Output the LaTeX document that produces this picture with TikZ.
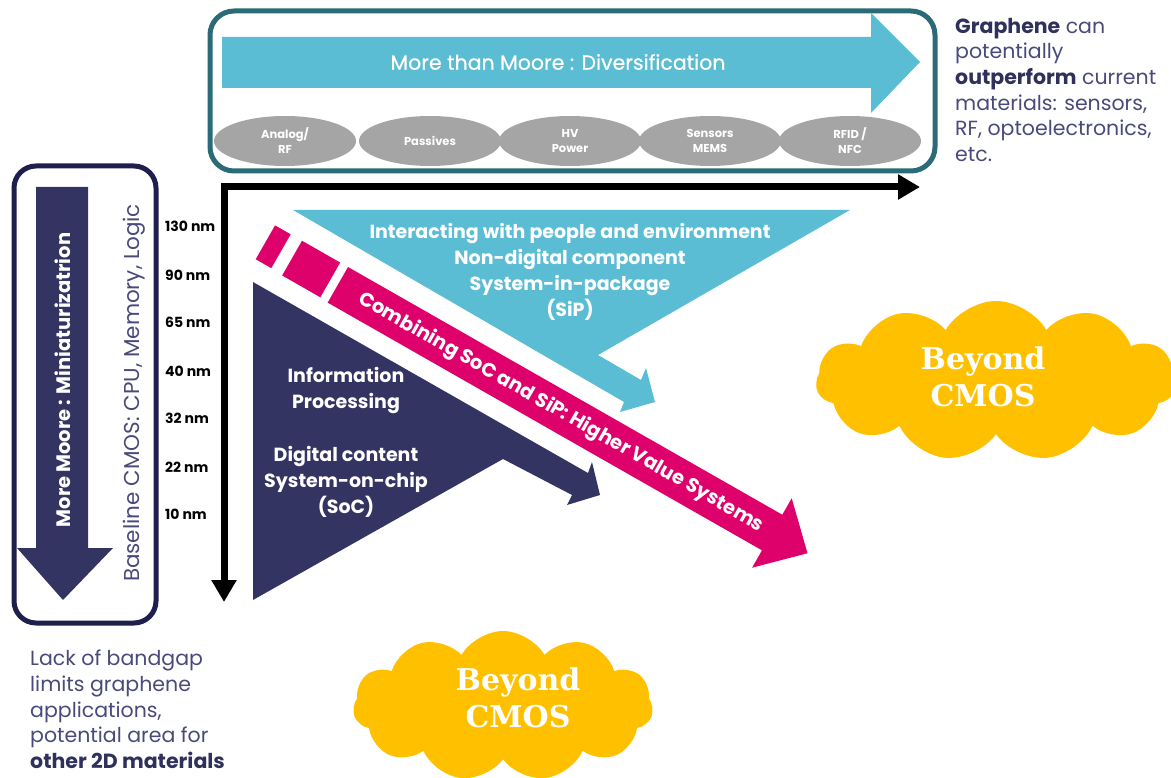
\documentclass[tikz,border=0pt]{standalone}
\usepackage{fontspec}
\setmainfont{Poppins}
\newfontfamily\slabfont{DejaVu Serif}
\usetikzlibrary{arrows.meta,shapes.geometric,shapes.symbols}
\definecolor{skyb}{HTML}{5BBDD4}
\definecolor{navyf}{HTML}{343463}
\definecolor{magen}{HTML}{DE006B}
\definecolor{tealb}{HTML}{2B6B78}
\definecolor{navyb}{HTML}{1F1F4D}
\definecolor{ellg}{HTML}{A5A5A5}
\definecolor{gold}{HTML}{FFC000}
\definecolor{txtnavy}{HTML}{4A4A7A}
\definecolor{txtdark}{HTML}{30305C}
\newcommand\myfs[2]{\fontsize{#1}{#2}\selectfont}
\begin{document}
\begin{tikzpicture}[x=1pt,y=-1pt,
  ell/.style={ellipse, fill=ellg, minimum width=142pt, minimum height=50pt, inner sep=0pt, text=white, font=\myfs{11.5}{15}\bfseries, align=center},
  wlab/.style={text=white, font=\myfs{19}{26}\bfseries, align=center, inner sep=0pt},
  nmlab/.style={anchor=west, font=\myfs{14}{16}\bfseries, inner sep=0pt},
  axisline/.style={line width=7pt, line join=miter, {Triangle[length=22pt,width=24pt]}-{Triangle[length=22pt,width=24pt]}},
  cloudshape/.style={cloud, cloud puffs=11, cloud puff arc=120, fill=gold, draw=none, inner sep=0pt},
  cloudtext/.style={text=white, font=\slabfont\bfseries\myfs{30}{37}, align=center, inner sep=0pt},
  note/.style={anchor=north west, inner sep=0pt, align=left, text=txtnavy, font=\myfs{20.5}{25.6}},
]
\useasboundingbox (0,0) rectangle (1171,778);

% top box
\draw[tealb, line width=5pt, rounded corners=24pt] (210,11) rectangle (935,171);
\fill[skyb] (222,37) -- (871,37) -- (871,13) -- (920,62) -- (871,113) -- (871,88) -- (222,88) -- cycle;
\node[text=white, font=\myfs{20.5}{24}\addfontfeature{FakeBold=0.6}, inner sep=0pt] (mtm) at (558,62) {More than Moore : Diversification};
\node[ell] (e1) at (285,141) {Analog/\\RF};
\node[ell] (e2) at (430,141) {Passives};
\node[ell] (e3) at (570,141) {HV\\Power};
\node[ell] (e4) at (710,141) {Sensors\\MEMS};
\node[ell] (e5) at (850,141) {RFID /\\NFC};

% left box
\draw[navyb, line width=5pt, rounded corners=22pt] (14,166) rectangle (156,623);
\fill[navyf] (36,187) -- (88,187) -- (88,548) -- (113,548) -- (63,600) -- (17,548) -- (36,548) -- cycle;
\node[rotate=90, text=white, font=\myfs{19.5}{22}\bfseries, inner sep=0pt] (mm) at (63,380) {More Moore : Miniaturizatrion};
\node[rotate=90, text=txtnavy, font=\myfs{21.5}{24}, inner sep=0pt] (base) at (134,393) {Baseline CMOS: CPU, Memory, Logic};

% nm labels
\node[nmlab] (n130) at (165,226) {130 nm};
\node[nmlab] (n90) at (165,275) {90 nm};
\node[nmlab] (n65) at (165,322) {65 nm};
\node[nmlab] (n40) at (165,371) {40 nm};
\node[nmlab] (n32) at (165,418) {32 nm};
\node[nmlab] (n22) at (165,467) {22 nm};
\node[nmlab] (n10) at (165,514) {10 nm};

% axes
\coordinate (corner) at (224,187);
\coordinate (htip) at (920,187);
\coordinate (vtip) at (224,602);
\draw[axisline] (vtip) -- (corner) -- (htip);

% SiP triangle arrow
\fill[skyb] (293,210) -- (850,210) -- (598,355) -- (641,380) -- (646,368) -- (655,402) -- (620,412) -- (624,402) -- cycle;
\node[wlab] (sip) at (570,272) {Interacting with people and environment\\Non-digital component\\System-in-package\\(SiP)};

% SoC triangle arrow
\fill[navyf] (253,282) -- (588,473) -- (592,462) -- (600,495) -- (567,505) -- (572,495) -- (503,459) -- (253,600) -- cycle;
\node[wlab] (info) at (346,391) {Information\\Processing};
\node[wlab] (soc) at (346,482) {Digital content\\System-on-chip\\(SoC)};

% magenta arrow
\begin{scope}[shift={(348,267)}, rotate=-29.7]
  \fill[magen] (-84,0) rectangle (-66,39);
  \fill[magen] (-53,0) rectangle (-9,40);
  \fill[magen] (0,0) -- (500,0) -- (500,-19) -- (541,21) -- (500,61) -- (500,41) -- (0,41) -- cycle;
  \node[rotate=-29.7, text=white, font=\myfs{19.5}{22}\bfseries, inner sep=0pt] (comb) at (257,21) {Combining SoC and SiP: Higher Value Systems};
\end{scope}

% clouds
\node[cloudshape, minimum width=360pt, minimum height=160pt, aspect=2.2] (cl1) at (996,381) {};
\node[cloudtext] (bc1) at (983,377) {Beyond\\CMOS};
\node[cloudshape, minimum width=300pt, minimum height=150pt, aspect=2.0] (cl2) at (503,706) {};
\node[cloudtext] (bc2) at (518,698) {Beyond\\CMOS};

% notes
\node[note] (graph) at (955,18) {{\bfseries\color{txtdark}Graphene} can\\potentially\\{\bfseries\color{txtdark}outperform} current\\materials: sensors,\\RF, optoelectronics,\\etc.};
\node[note] (lack) at (30,650) {Lack of bandgap\\limits graphene\\applications,\\potential area for\\{\bfseries\color{txtdark}other 2D materials}};
\end{tikzpicture}
\end{document}
